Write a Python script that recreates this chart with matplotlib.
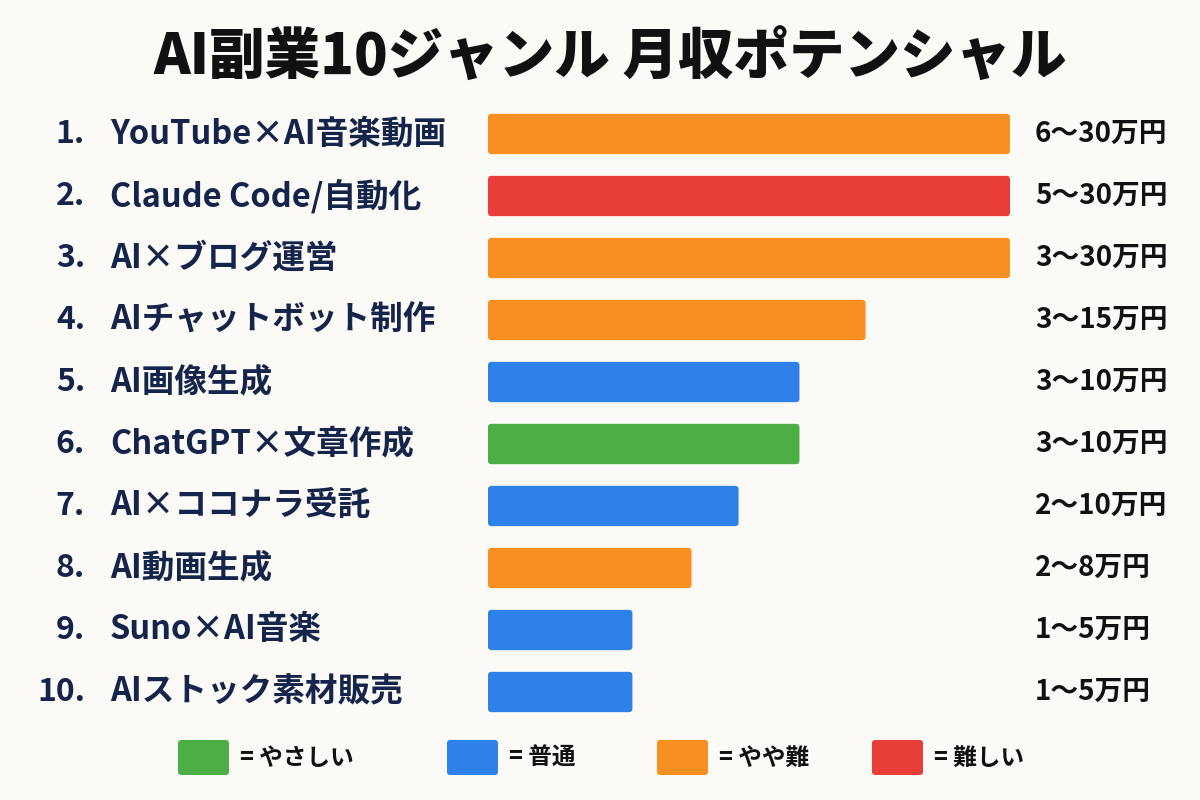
import numpy as np
import matplotlib.pyplot as plt
from matplotlib.patches import FancyBboxPatch

plt.rcParams['font.family'] = ['Noto Sans CJK JP', 'DejaVu Sans']

# データ
title = "AI副業10ジャンル 月収ポテンシャル"
genres = ["YouTube×AI音楽動画", "Claude Code/自動化", "AI×ブログ運営", "AIチャットボット制作",
          "AI画像生成", "ChatGPT×文章作成", "AI×ココナラ受託", "AI動画生成",
          "Suno×AI音楽", "AIストック素材販売"]
income = ["6～30万円", "5～30万円", "3～30万円", "3～15万円", "3～10万円",
          "3～10万円", "2～10万円", "2～8万円", "1～5万円", "1～5万円"]
bar_len = [30, 30, 30, 21.7, 17.9, 17.9, 14.4, 11.7, 8.3, 8.3]
level = ["やや難", "難しい", "やや難", "やや難", "普通", "やさしい", "普通", "やや難", "普通", "普通"]

levels = ["やさしい", "普通", "やや難", "難しい"]
level_colors = {"やさしい": "#4CAF46", "普通": "#2F81EA", "やや難": "#F78F21", "難しい": "#E93D3A"}

bg = "#FBFAF6"
navy = "#15244A"

fig = plt.figure(figsize=(12, 8), dpi=100, facecolor=bg)

# 棒グラフ部分
ax = fig.add_axes([488 / 1200, 77 / 800, 522 / 1200, 620 / 800])
ax.set_facecolor(bg)
y = np.arange(len(genres))
bars = ax.barh(y, bar_len, height=0.65, color=[level_colors[l] for l in level])
ax.set_xlim(0, 30)
ax.set_ylim(len(genres) - 0.5, -0.5)
ax.axis('off')

# 角を少し丸める
for b in bars:
    b.set_visible(False)
    ax.add_patch(FancyBboxPatch((b.get_x(), b.get_y()), b.get_width(), b.get_height(),
                                boxstyle="round,pad=0,rounding_size=0.2", mutation_aspect=0.28,
                                facecolor=b.get_facecolor(), edgecolor='none'))

tr = ax.get_yaxis_transform()
for i, (g, v) in enumerate(zip(genres, income)):
    ax.text(-0.772, i, f"{i + 1}.", transform=tr, ha='right', va='center',
            fontsize=23, fontweight='bold', color=navy, clip_on=False)
    ax.text(-0.724, i, g, transform=tr, ha='left', va='center',
            fontsize=23.5, fontweight='bold', color=navy, clip_on=False)
    ax.text(1.048, i, v, transform=tr, ha='left', va='center',
            fontsize=20, fontweight='bold', color='#111111', clip_on=False)

# タイトルと凡例（ピクセル座標）
ov = fig.add_axes([0, 0, 1, 1], facecolor='none')
ov.set_xlim(0, 1200)
ov.set_ylim(800, 0)
ov.axis('off')

ov.text(610, 58, title, ha='center', va='center', fontsize=40, fontweight='black', color='#111111')

leg_x = [178, 447, 657, 872]
for lx, name in zip(leg_x, levels):
    ov.add_patch(FancyBboxPatch((lx + 3, 743), 45, 29, boxstyle="round,pad=3",
                                facecolor=level_colors[name], edgecolor='none'))
    ov.text(lx + 62, 758, "= " + name, ha='left', va='center', fontsize=17,
            fontweight='bold', color='#111111')

fig.savefig("out.png", dpi=100, facecolor=bg)
